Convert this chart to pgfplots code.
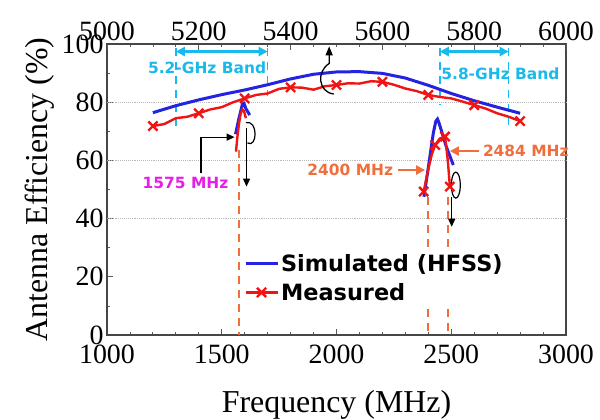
\documentclass[border=0pt]{standalone}
\usepackage{fontspec}
\setmainfont{Liberation Serif}
\newfontfamily\dvs{DejaVu Sans}
\usepackage{pgfplots}
\pgfplotsset{compat=1.18}
\usetikzlibrary{arrows.meta}
\definecolor{simblue}{RGB}{35,35,225}
\definecolor{measred}{RGB}{240,20,20}
\definecolor{cyanc}{RGB}{25,185,235}
\definecolor{orc}{RGB}{240,110,60}
\definecolor{magc}{RGB}{230,30,230}
\newcommand{\annfont}{\dvs\bfseries\fontsize{15.5}{18}\selectfont}
\pgfplotsset{
  common/.style={
    at={(0,0)}, anchor=south west,
    scale only axis, width=459bp, height=291bp,
    ymin=0, ymax=100, clip=false,
    tick align=inside,
    major tick length=6bp, minor tick length=3.5bp,
    every tick/.style={gray!70!black, line width=0.8bp},
    axis line style={draw=gray!55!black, line width=1.2bp},
    /pgf/number format/assume math mode=true,
    /pgf/number format/set thousands separator={},
    scaled x ticks=false,
    tick label style={font=\rmfamily\fontsize{28}{30}\selectfont},
    label style={font=\rmfamily\fontsize{32}{36}\selectfont},
  },
  simstyle/.style={simblue, line width=3bp, no markers},
  measstyle/.style={measred, line width=2.4bp, mark=x, mark size=6.5bp, mark options={line width=2.4bp, solid}},
}
\begin{document}
\begin{tikzpicture}
\begin{axis}[common,
  xmin=1000, xmax=3000,
  xtick={1000,1500,...,3000}, minor x tick num=4,
  ytick={0,20,...,100}, minor y tick num=1,
  xtick pos=left, ytick pos=left,
  xticklabel style={yshift=-6bp},
  xlabel={Frequency (MHz)}, ylabel={Antenna Efficiency (\%)},
  every axis x label/.append style={yshift=-20bp},
  legend style={at={(0.296,0.287)}, anchor=north west, draw=none, fill=white,
    font=\dvs\bfseries\fontsize{22.5}{25}\selectfont, inner sep=1bp, row sep=6bp,
    /tikz/every even column/.style={column sep=5bp}},
  legend cell align=left,
  legend image code/.code={\draw[mark repeat=2,mark phase=2,#1] plot coordinates {(0bp,0bp) (16bp,0bp) (32bp,0bp)};},
]
% grid
\draw[gray!55, densely dotted, line width=0.9bp] (axis cs:1000,40) -- (axis cs:3000,40);
\draw[gray!55, densely dotted, line width=0.9bp] (axis cs:1000,60) -- (axis cs:3000,60);
\draw[gray!55, densely dotted, line width=0.9bp] (axis cs:1000,80) -- (axis cs:3000,80);
% dashed marker lines
\draw[orc, line width=2bp, dash pattern=on 8bp off 6bp] (axis cs:1575,63.5) -- (axis cs:1575,0);
\draw[orc, line width=2bp, dash pattern=on 8bp off 6bp] (axis cs:2400,47.5) -- (axis cs:2400,0);
\draw[orc, line width=2bp, dash pattern=on 8bp off 6bp] (axis cs:2484,47.5) -- (axis cs:2484,0);
% 1575 band
\addplot[simstyle, forget plot] coordinates {
(1560,69.0) (1575,74.5) (1590,79.3) (1597,79.6) (1605,77.8) (1622,75.6)};
\addplot[measred, line width=2.4bp, forget plot] coordinates {
(1562,63.0) (1568,68.0) (1575,72.5) (1582,76.0) (1590,77.5) (1597,77.0) (1605,74.5)};
% 2.4 GHz band
\addplot[simstyle, forget plot] coordinates {
(2381,47.5) (2400,57.5) (2422,69.5) (2433,73.5) (2440,74.2) (2447,72.8) (2478,64.8) (2509,58.4)};
\addplot[measstyle, mark indices={1,4,6,8}, forget plot] coordinates {
(2380,49.3) (2400,57.0) (2415,62.0) (2430,65.3) (2450,67.5) (2473,68.2) (2485,60.0) (2494,51.0)};
% annotations
\node[magc, font=\annfont] at (axis cs:1342,52.1) {1575 MHz};
\draw[black, line width=1.2bp, -{Triangle[length=8bp,width=7bp]}] (axis cs:1410,55.5) -- (axis cs:1410,68) -- (axis cs:1556,68);
\draw[black, line width=1.2bp] (axis cs:1605,73) .. controls (axis cs:1660,74) and (axis cs:1655,64) .. (axis cs:1612,66);
\draw[black, line width=1.2bp, -{Triangle[length=8bp,width=7bp]}] (axis cs:1608,71) -- (axis cs:1608,51);
\node[orc, font=\annfont, anchor=east] at (axis cs:2262,56.7) {2400 MHz};
\draw[orc, line width=2.5bp, -{Triangle[length=9bp,width=9bp]}] (axis cs:2266,56.7) -- (axis cs:2386,56.7);
\node[orc, font=\annfont, anchor=west] at (axis cs:2623,63.2) {2484 MHz};
\draw[orc, line width=2.5bp, -{Triangle[length=9bp,width=9bp]}] (axis cs:2619,63.2) -- (axis cs:2494,63.2);
\draw[black, line width=1.2bp] (axis cs:2520,51.5) ellipse [x radius=4.5bp, y radius=13bp];
\draw[black, line width=1.2bp, -{Triangle[length=8bp,width=7bp]}] (axis cs:2502,47.5) -- (axis cs:2502,37.2);
% legend
\addlegendimage{simblue, line width=3bp}
\addlegendentry{Simulated (HFSS)}
\addlegendimage{measstyle}
\addlegendentry{Measured}
\end{axis}
\begin{axis}[common,
  xmin=5000, xmax=6000,
  axis x line*=top, hide y axis,
  xtick={5000,5200,...,6000}, minor x tick num=3,
]
% band markers
\draw[cyanc, line width=1.6bp, dash pattern=on 8bp off 6bp] (axis cs:5150,98.5) -- (axis cs:5150,71.5);
\draw[cyanc, line width=1.6bp, dash pattern=on 8bp off 6bp] (axis cs:5350,98.5) -- (axis cs:5350,82);
\draw[cyanc, line width=1.6bp, dash pattern=on 8bp off 6bp] (axis cs:5725,98.5) -- (axis cs:5725,79);
\draw[cyanc, line width=1.6bp, dash pattern=on 8bp off 6bp] (axis cs:5875,98.5) -- (axis cs:5875,72);
\draw[cyanc, line width=2.5bp, {Triangle[length=9bp,width=9bp]}-{Triangle[length=9bp,width=9bp]}] (axis cs:5150,97.4) -- (axis cs:5350,97.4);
\draw[cyanc, line width=2.5bp, {Triangle[length=9bp,width=9bp]}-{Triangle[length=9bp,width=9bp]}] (axis cs:5725,97.4) -- (axis cs:5875,97.4);
\node[cyanc, font=\annfont] at (axis cs:5218,91.8) {5.2-GHz Band};
\node[cyanc, font=\annfont] at (axis cs:5857,89.7) {5.8-GHz Band};
% curves
\addplot[simstyle] coordinates {
(5100,76.4) (5150,78.8) (5200,80.8) (5250,82.6) (5300,84.2) (5350,86.0) (5400,88.0)
(5450,89.6) (5500,90.4) (5550,90.5) (5600,89.9) (5650,88.3) (5700,85.8) (5750,83.0)
(5800,80.5) (5850,78.3) (5900,76.2)};
\addplot[measstyle, mark repeat=4] coordinates {
(5100,71.8) (5125,72.5) (5150,74.5) (5175,75.0) (5200,76.2) (5225,77.5) (5250,78.3)
(5275,80.0) (5300,81.3) (5325,82.5) (5350,83.0) (5375,84.6) (5400,85.1) (5425,85.0)
(5450,84.3) (5475,85.5) (5500,85.9) (5525,86.5) (5550,86.4) (5575,87.2) (5600,87.0)
(5625,86.0) (5650,84.7) (5675,83.8) (5700,82.5) (5725,81.8) (5750,81.3) (5775,80.2)
(5800,79.0) (5825,77.8) (5850,76.2) (5875,75.0) (5900,73.5)};
% pointer to top axis
\draw[black, line width=1.3bp, -{Triangle[length=9bp,width=7bp]}] (axis cs:5494,82.8) .. controls (axis cs:5460,83.5) and (axis cs:5456,90.5) .. (axis cs:5484,93.3) -- (axis cs:5484,99.2);
\end{axis}
\pgfresetboundingbox
\useasboundingbox (-107bp,-85bp) rectangle (493bp,335bp);
\end{tikzpicture}
\end{document}
